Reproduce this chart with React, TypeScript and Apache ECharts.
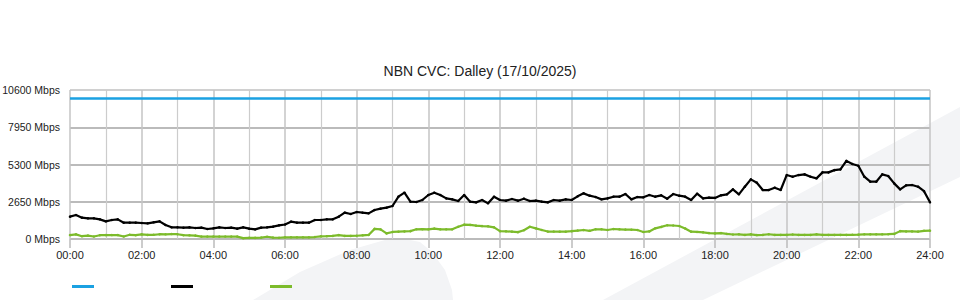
import React, { useEffect, useRef } from "react";
import * as echarts from "echarts";

const TITLE = "NBN CVC: Dalley (17/10/2025)";
const STEP_MINUTES = 10;
const Y_TICKS = [0, 2650, 5300, 7950, 10600];
const X_TICK_LABELS = ["00:00", "02:00", "04:00", "06:00", "08:00", "10:00", "12:00", "14:00", "16:00", "18:00", "20:00", "22:00", "24:00"];
const SERIES_NAMES = ["Capacity", "Download", "Upload"];

const capacity = 10000;

const download = [
  1588, 1707, 1517, 1470, 1470, 1398, 1256,
  1351, 1398, 1161, 1161, 1161, 1138,
  1114, 1185, 1256, 995, 830, 830,
  806, 830, 782, 806, 711, 758,
  830, 782, 806, 735, 830, 735,
  687, 806, 830, 877, 972, 1030,
  1232, 1161, 1161, 1161, 1351, 1351,
  1398, 1398, 1588, 1872, 1778, 1920,
  1872, 1825, 2062, 2157, 2228, 2346,
  3010, 3294, 2654, 2631, 2773, 3129,
  3294, 3129, 2891, 2820, 2702, 3129,
  2654, 2607, 2773, 2536, 3010, 2773,
  2726, 2844, 2726, 2868, 2702, 2726,
  2654, 2607, 2773, 2726, 2820, 2773,
  3034, 3247, 3081, 2986, 2820, 2891,
  3010, 3010, 3200, 2820, 2986, 2963,
  3129, 3010, 3105, 2868, 3200, 3081,
  3010, 2773, 3223, 2891, 2939, 2920,
  3105, 3176, 3531, 3176, 3721, 4242,
  4005, 3484, 3484, 3650, 3484, 4550,
  4432, 4550, 4598, 4432, 4314, 4740,
  4740, 4900, 4953, 5560, 5333, 5214,
  4432, 4077, 4077, 4598, 4479, 3958,
  3531, 3816, 3840, 3721, 3400, 2607,
];

const upload = [
  280, 330, 200, 240, 180, 270, 280,
  280, 280, 180, 300, 270, 330,
  290, 300, 340, 330, 350, 340,
  270, 260, 240, 170, 170, 170,
  170, 170, 170, 170, 60, 80,
  80, 100, 160, 100, 90, 110,
  120, 120, 120, 120, 140, 190,
  200, 220, 280, 220, 220, 230,
  260, 290, 720, 680, 400, 500,
  520, 540, 560, 690, 700, 690,
  740, 690, 690, 690, 870, 1020,
  1000, 950, 920, 900, 830, 560,
  545, 522, 490, 620, 870, 760,
  640, 530, 530, 522, 522, 560,
  600, 640, 580, 690, 690, 640,
  711, 690, 670, 660, 640, 500,
  540, 760, 860, 980, 960, 924,
  750, 522, 500, 474, 420, 400,
  420, 360, 320, 330, 290, 330,
  280, 290, 340, 290, 290, 290,
  320, 290, 290, 290, 330, 290,
  290, 290, 290, 290, 300, 310,
  330, 330, 330, 330, 340, 360,
  560, 540, 540, 530, 580, 590,
];

const FONT = "'Liberation Sans', Arial, sans-serif";

export default function App() {
  const ref = useRef<HTMLDivElement>(null);
  useEffect(() => {
    document.body.style.margin = "0";
    if (!ref.current) return;
    const chart = echarts.init(ref.current, undefined, { renderer: "svg" });
    const toPairs = (arr: number[]) => arr.map((v, i) => [i * STEP_MINUTES, v]);
    const capPairs = download.map((_, i) => [i * STEP_MINUTES, capacity]);
    const fmtX = (v: number) => {
      const idx = Math.round(v / 120);
      return X_TICK_LABELS[idx] ?? "";
    };
    chart.setOption({
      animation: false,
      backgroundColor: "#ffffff",
      title: {
        text: TITLE,
        left: "center",
        top: 59,
        textStyle: { fontFamily: FONT, fontSize: 14, fontWeight: "normal", color: "#222" },
      },
      graphic: [
        {
          type: "polygon",
          z: -10,
          silent: true,
          shape: { points: [[603, 300], [960, 107], [960, 177], [703, 300]] },
          style: { fill: "#f3f4f6" },
        },
        {
          type: "polygon",
          z: -10,
          silent: true,
          shape: {
            points: [[253, 300], [300, 272], [350, 250], [385, 240], [405, 239], [420, 242], [432, 252], [445, 270], [452, 290], [453, 300]],
          },
          style: { fill: "#f3f4f6" },
        },
      ],
      legend: {
        left: 67,
        top: 280,
        icon: "rect",
        itemWidth: 22,
        itemHeight: 3,
        itemGap: 77,
        formatter: () => "",
        data: SERIES_NAMES,
        textStyle: { fontFamily: FONT, fontSize: 11 },
      },
      grid: { left: 70, right: 30, top: 90, bottom: 61, outerBoundsMode: "none", containLabel: false },
      xAxis: {
        type: "value",
        min: 0,
        max: 1440,
        interval: 120,
        axisLine: { show: false },
        axisTick: { show: true, length: 9, lineStyle: { color: "#bbbbbb", width: 1.5 } },
        axisLabel: { formatter: fmtX, margin: 10, fontFamily: FONT, fontSize: 11, color: "#222" },
        splitLine: { show: true, lineStyle: { color: "#c4c4c4", width: 1.5 } },
        minorTick: { show: false, splitNumber: 2 },
        minorSplitLine: { show: true, lineStyle: { color: "#cccccc", width: 1.2 } },
      },
      yAxis: {
        type: "value",
        min: 0,
        max: 10600,
        interval: 2650,
        axisLine: { show: false },
        axisTick: { show: false },
        axisLabel: {
          formatter: (v: number) => (Y_TICKS.includes(v) ? `${v} Mbps` : ""),
          margin: 10,
          fontFamily: FONT,
          fontSize: 10.5,
          color: "#222",
          padding: [0, 0, 3, 0],
        },
        splitLine: { show: true, lineStyle: { color: ["#bbbbbb", "#bbbbbb", "#bbbbbb", "#bbbbbb", "#d0d0d0"], width: 2 } },
      },
      series: [
        {
          name: SERIES_NAMES[0],
          type: "line",
          data: capPairs,
          showSymbol: false,
          lineStyle: { color: "#1ba1e2", width: 2.5 },
          itemStyle: { color: "#1ba1e2" },
        },
        {
          name: SERIES_NAMES[1],
          type: "line",
          data: toPairs(download),
          symbol: "circle",
          symbolSize: 2.5,
          lineStyle: { color: "#000000", width: 2.2 },
          itemStyle: { color: "#000000" },
        },
        {
          name: SERIES_NAMES[2],
          type: "line",
          data: toPairs(upload),
          symbol: "circle",
          symbolSize: 2.5,
          lineStyle: { color: "#7cbb2b", width: 2.2 },
          itemStyle: { color: "#7cbb2b" },
        },
      ],
    });
    return () => chart.dispose();
  }, []);
  return <div ref={ref} style={{ position: "fixed", left: 0, top: 0, width: 960, height: 300 }} />;
}
